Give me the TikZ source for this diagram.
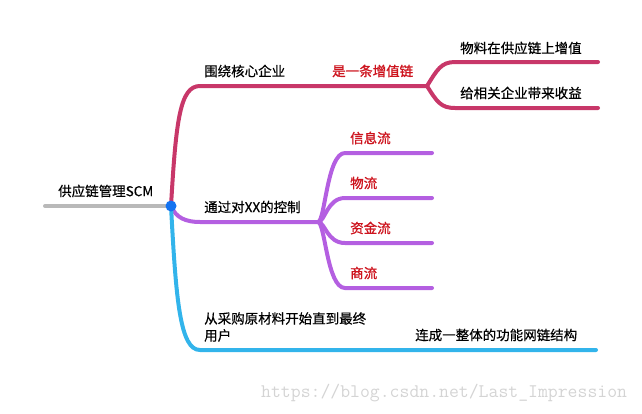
\documentclass[tikz,border=0pt]{standalone}
\usepackage{fontspec}
\newfontfamily\cjk{Noto Sans CJK SC}[FakeBold=0.5]
\newfontfamily\cjkb{Noto Sans CJK SC}[FakeBold=1.2]
\usepackage{tikz}
\usetikzlibrary{arrows.meta}
\usepackage{xcolor}
\definecolor{redbr}{RGB}{200,55,105}
\definecolor{purplebr}{RGB}{180,95,225}
\definecolor{bluebr}{RGB}{50,180,235}
\definecolor{dotblue}{RGB}{20,115,240}
\definecolor{graybr}{RGB}{185,185,185}
\definecolor{redtxt}{RGB}{205,20,30}

\begin{document}
\begin{tikzpicture}[x=1pt,y=-1pt,
  br/.style={line width=4pt,line cap=round},
  lbl/.style={anchor=west,inner sep=0pt,font=\cjk\fontsize{13.5}{17}\selectfont},
  rlbl/.style={lbl,text=redtxt,font=\cjkb\fontsize{13.5}{17}\selectfont}]
\useasboundingbox (0,0) rectangle (642,413);
% coordinates of the map
\coordinate (root) at (171,206);
\coordinate (s) at (45,206);
\coordinate (a) at (200,86);
\coordinate (afork) at (427,86);
\coordinate (a1) at (455,62);
\coordinate (a1e) at (598,62);
\coordinate (a2) at (455,108);
\coordinate (a2e) at (598,108);
\coordinate (b) at (200,222);
\coordinate (bfork) at (318,222);
\coordinate (c) at (200,350);
\coordinate (ce) at (596,350);
% branches
\draw[br,graybr] (s) -- (root);
\draw[br,redbr] (root) .. controls (176,120) and (180,86) .. (a) -- (afork);
\draw[br,redbr] (afork) .. controls (437,70) and (441,62) .. (a1) -- (a1e);
\draw[br,redbr] (afork) .. controls (437,102) and (441,108) .. (a2) -- (a2e);
\draw[br,purplebr] (root) .. controls (176,218) and (186,222) .. (b) -- (bfork);
\foreach \y/\n in {153/1,198/2,243/3,288/4}{
  \coordinate (b\n) at (345,\y);
  \coordinate (b\n e) at (432,\y);
  \draw[br,purplebr] (bfork) .. controls (325,222) and (327,\y) .. (b\n) -- (b\n e);
}
\draw[br,bluebr] (root) .. controls (176,300) and (180,350) .. (c) -- (ce);
\fill[dotblue] (root) circle (5.5);
% texts
\node[lbl] (tscm) at (58,191) {供应链管理SCM};
\node[lbl] (ta) at (204,71) {围绕核心企业};
\node[rlbl] (tv) at (332,71) {是一条增值链};
\node[lbl] (ta1) at (460,48) {物料在供应链上增值};
\node[lbl] (ta2) at (460,93) {给相关企业带来收益};
\node[lbl] (tb) at (204,207) {通过对XX的控制};
\node[rlbl] (tb1) at (350,138) {信息流};
\node[rlbl] (tb2) at (350,183) {物流};
\node[rlbl] (tb3) at (350,228) {资金流};
\node[rlbl] (tb4) at (350,273) {商流};
\node[lbl,align=left] (tc) at (204,327) {从采购原材料开始直到最终\\用户};
\node[lbl] (tce) at (415,335) {连成一整体的功能网链结构};
\node[anchor=west,inner sep=0pt,text={rgb,255:red,212;green,212;blue,212},
  font=\ttfamily\fontsize{19.2}{20}\selectfont] (wm) at (261,393) {https://blog.csdn.net/Last\_Impression};
\end{tikzpicture}
\end{document}
